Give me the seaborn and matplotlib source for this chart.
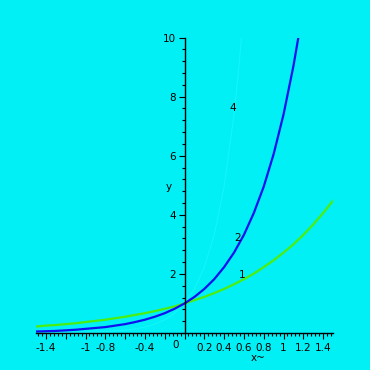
import matplotlib
matplotlib.use("Agg")
import matplotlib.pyplot as plt
import seaborn as sns
from matplotlib.ticker import FixedLocator, MultipleLocator

# values
x_blue = [-1.5, -1.4, -1.3, -1.2, -1.1, -1.0, -0.9, -0.8, -0.7, -0.6, -0.5, -0.4, -0.3, -0.2, -0.1,
          0.0, 0.1, 0.2, 0.3, 0.4, 0.5, 0.6, 0.7, 0.8, 0.9, 1.0, 1.1, 1.15]
y_blue = [0.05, 0.06, 0.07, 0.09, 0.11, 0.14, 0.17, 0.20, 0.25, 0.30, 0.37, 0.45, 0.55, 0.67, 0.82,
          1.00, 1.22, 1.49, 1.82, 2.23, 2.72, 3.32, 4.06, 4.95, 6.05, 7.39, 9.03, 10.0]

x_green = [-1.5, -1.4, -1.3, -1.2, -1.1, -1.0, -0.9, -0.8, -0.7, -0.6, -0.5, -0.4, -0.3, -0.2, -0.1,
           0.0, 0.1, 0.2, 0.3, 0.4, 0.5, 0.6, 0.7, 0.8, 0.9, 1.0, 1.1, 1.2, 1.3, 1.4, 1.5]
y_green = [0.22, 0.25, 0.27, 0.30, 0.33, 0.37, 0.41, 0.45, 0.50, 0.55, 0.61, 0.67, 0.74, 0.82, 0.90,
           1.00, 1.11, 1.22, 1.35, 1.49, 1.65, 1.82, 2.01, 2.23, 2.46, 2.72, 3.00, 3.32, 3.67, 4.06, 4.48]

x_faint = [-1.5, -1.2, -0.9, -0.6, -0.5, -0.4, -0.3, -0.2, -0.1, 0.0, 0.1, 0.2, 0.3, 0.4, 0.5, 0.55, 0.575]
y_faint = [0.00, 0.01, 0.03, 0.09, 0.14, 0.20, 0.30, 0.45, 0.67, 1.00, 1.49, 2.23, 3.32, 4.95, 7.39, 9.03, 10.0]

x_ticks = [-1.4, -1.2, -1.0, -0.8, -0.6, -0.4, -0.2, 0.0, 0.2, 0.4, 0.6, 0.8, 1.0, 1.2, 1.4]
x_ticklabels = ["-1.4", "", "-1", "-0.8", "", "-0.4", "", "",
                "0.2", "0.4", "0.6", "0.8", "1", "1.2", "1.4"]
y_ticks = [2, 4, 6, 8, 10]
y_ticklabels = ["2", "4", "6", "8", "10"]

# curve labels: (text, x, y)
curve_labels = [("4", 0.49, 7.6), ("2", 0.54, 3.2), ("1", 0.58, 1.97)]

bg = "#00F0F6"
sns.set_style("white", {"axes.facecolor": bg, "figure.facecolor": bg})
plt.rcParams["font.family"] = ["DejaVu Sans"]
plt.rcParams["text.color"] = "black"

fig = plt.figure(figsize=(3.7, 3.7), dpi=100)
ax = fig.add_axes([36 / 370, 1 - 333 / 370, 297 / 370, 295.5 / 370])
ax.set_facecolor(bg)

sns.lineplot(x=x_faint, y=y_faint, ax=ax, color="#12F6FB", linewidth=0.8, sort=False)
sns.lineplot(x=x_green, y=y_green, ax=ax, color="#4CEE0C", linewidth=1.6, sort=False)
sns.lineplot(x=x_blue, y=y_blue, ax=ax, color="#1010F0", linewidth=1.6, sort=False)

ax.set_xlim(-1.5, 1.5)
ax.set_ylim(0, 10)

for s in ["top", "right"]:
    ax.spines[s].set_visible(False)
ax.spines["left"].set_position(("data", 0))
ax.spines["bottom"].set_position(("data", 0))
ax.spines["left"].set_color("black")
ax.spines["bottom"].set_color("black")
ax.spines["left"].set_linewidth(1.0)
ax.spines["bottom"].set_linewidth(1.0)

ax.xaxis.set_major_locator(FixedLocator(x_ticks))
ax.set_xticklabels(x_ticklabels)
ax.xaxis.set_minor_locator(MultipleLocator(0.04))
ax.yaxis.set_major_locator(FixedLocator(y_ticks))
ax.set_yticklabels(y_ticklabels)
ax.yaxis.set_minor_locator(MultipleLocator(0.4))

ax.tick_params(axis="both", which="both", bottom=True, left=True)
ax.tick_params(axis="both", which="major", direction="out", length=4, width=0.8,
               colors="black", labelsize=7.5, pad=2)
ax.tick_params(axis="both", which="minor", direction="out", length=2.5, width=0.8, colors="black")
ax.tick_params(axis="x", which="major", pad=3)

ax.text(-0.09, -0.25, "0", fontsize=7.5, ha="center", va="top", color="black")
ax.text(-0.157, 4.94, "y", fontsize=7.5, ha="center", va="center", color="black")
ax.text(0.74, -0.86, "x~", fontsize=7.5, ha="center", va="center", color="black", clip_on=False)
for t, lx, ly in curve_labels:
    ax.text(lx, ly, t, fontsize=7.5, ha="center", va="center", color="black")

fig.savefig("out.png", dpi=100, facecolor=bg)
